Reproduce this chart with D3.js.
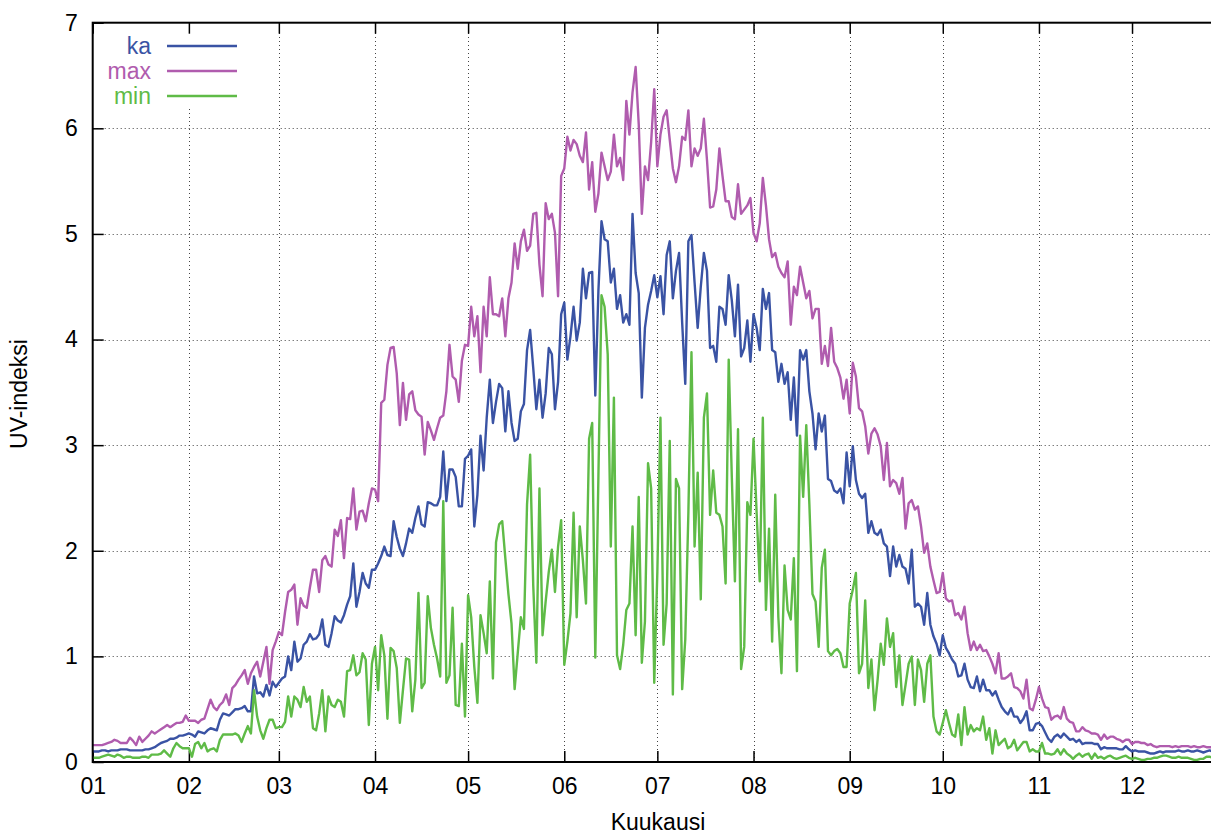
<!DOCTYPE html>
<html>
<head>
<meta charset="utf-8">
<script src="https://cdn.jsdelivr.net/npm/d3@7/dist/d3.min.js"></script>
<style>
  body { margin: 0; background: #fff; }
  svg { display: block; font-family: "Liberation Sans", Arial, sans-serif; }
</style>
</head>
<body>
<svg id="chart" width="1211" height="834"></svg>
<script>
// daily UV index, one value per day starting 1 Jan (leap year)
var ka = [
  0.10,0.10,0.10,0.11,0.11,0.10,0.11,0.11,0.11,0.12, // 0
  0.12,0.12,0.11,0.11,0.11,0.11,0.11,0.12,0.12,0.13,
  0.14,0.16,0.18,0.19,0.20,0.22,0.22,0.23,0.25,0.25,
  0.26,0.27,0.26,0.24,0.29,0.28,0.27,0.30,0.32,0.31,
  0.30,0.40,0.46,0.45,0.44,0.47,0.50,0.50,0.51,0.53,
  0.48,0.48,0.81,0.65,0.66,0.62,0.73,0.63,0.76,0.71, // 50
  0.75,0.79,0.81,1.00,0.87,1.14,0.95,0.98,1.11,1.14,
  1.21,1.16,1.17,1.21,1.35,1.11,1.09,1.22,1.38,1.34,
  1.32,1.39,1.49,1.57,1.88,1.47,1.61,1.79,1.69,1.65,
  1.82,1.82,1.88,1.95,2.04,1.96,1.95,2.28,2.13,2.02,
  1.95,2.07,2.21,2.17,2.31,2.42,2.25,2.23,2.46,2.45, // 100
  2.43,2.43,2.51,2.94,2.47,2.77,2.77,2.70,2.42,2.42,
  2.87,2.90,2.96,2.23,2.53,3.09,2.76,3.26,3.62,3.21,
  3.41,3.58,3.54,3.13,3.51,3.21,3.04,3.06,3.32,3.39,
  3.90,4.09,3.73,3.34,3.62,3.26,3.49,3.92,3.86,3.34,
  3.60,4.24,4.35,3.81,4.03,4.31,3.99,4.16,4.67,4.39, // 150
  4.63,4.64,3.47,4.46,5.12,4.95,4.93,4.54,4.67,4.29,
  4.42,4.16,4.24,4.14,5.19,4.63,4.44,3.45,4.11,4.33,
  4.46,4.61,4.40,4.60,4.24,4.80,4.93,4.39,4.65,4.82,
  4.16,3.58,4.93,4.99,4.54,4.11,4.50,4.82,4.65,3.92,
  3.94,3.79,4.31,4.29,4.14,4.61,4.37,4.03,4.52,3.84, // 200
  3.92,4.18,3.79,4.24,4.11,3.90,4.48,4.29,4.44,3.90,
  3.88,3.60,3.77,3.58,3.69,3.24,3.64,3.09,3.90,3.81,
  3.90,3.51,3.30,2.96,3.30,3.13,3.28,2.68,2.66,2.57,
  2.55,2.59,2.45,2.93,2.61,2.99,2.67,2.54,2.50,2.54,
  2.17,2.28,2.17,2.15,2.20,2.07,2.04,1.76,2.04,1.85, // 250
  1.96,1.85,1.83,1.69,2.01,1.47,1.50,1.47,1.30,1.60,
  1.30,1.19,1.12,1.01,1.20,1.08,1.03,0.97,0.93,0.81,
  0.82,0.93,0.78,0.71,0.70,0.81,0.67,0.78,0.68,0.68,
  0.63,0.67,0.59,0.52,0.48,0.45,0.51,0.43,0.43,0.37,
  0.41,0.48,0.30,0.30,0.36,0.37,0.34,0.28,0.22,0.19, // 300
  0.24,0.26,0.23,0.27,0.24,0.21,0.22,0.19,0.21,0.17,
  0.18,0.18,0.18,0.17,0.17,0.12,0.14,0.13,0.13,0.13,
  0.13,0.12,0.12,0.15,0.12,0.10,0.11,0.10,0.10,0.10,
  0.09,0.08,0.08,0.09,0.10,0.09,0.10,0.10,0.10,0.10,
  0.11,0.10,0.10,0.11,0.10,0.10,0.11,0.10,0.09,0.10, // 350
  0.11,0.10,0.10,0.10,0.10,0.10
];

var uvMax = [
  0.16,0.16,0.16,0.16,0.17,0.18,0.19,0.21,0.20,0.18,
  0.18,0.18,0.23,0.20,0.16,0.24,0.19,0.22,0.25,0.29,
  0.27,0.29,0.31,0.33,0.35,0.33,0.35,0.37,0.37,0.38,
  0.44,0.39,0.39,0.39,0.37,0.40,0.41,0.50,0.59,0.52,
  0.49,0.54,0.57,0.64,0.54,0.70,0.73,0.78,0.82,0.87,
  0.74,0.84,0.90,0.95,0.81,0.95,1.09,0.74,1.06,1.14,
  1.23,1.20,1.42,1.61,1.63,1.68,1.30,1.55,1.48,1.46,
  1.65,1.82,1.82,1.61,1.91,1.95,1.87,1.85,2.20,2.14,
  2.29,1.93,2.31,2.30,2.59,2.20,2.37,2.38,2.28,2.45,
  2.59,2.58,2.47,3.40,3.43,3.76,3.92,3.93,3.68,3.19,
  3.59,3.24,3.48,3.51,3.33,3.29,3.27,2.91,3.22,3.14,
  3.05,3.16,3.26,3.28,3.51,3.95,3.65,3.62,3.41,3.80,
  3.95,3.94,4.31,4.03,4.22,3.69,4.31,4.03,4.59,4.24,
  4.24,4.22,4.39,4.03,4.39,4.54,4.91,4.67,4.93,5.04,
  4.84,4.89,5.19,5.20,4.71,4.41,5.29,5.14,5.19,5.01,
  4.41,5.55,5.62,5.92,5.79,5.89,5.85,5.74,5.68,5.96,
  5.42,5.68,5.21,5.38,5.77,5.64,5.51,5.59,5.94,5.64,
  5.72,5.51,6.26,5.94,6.34,6.58,6.04,5.19,5.64,5.51,
  5.87,6.37,5.64,5.94,6.11,6.17,5.89,5.62,5.49,5.64,
  5.92,5.89,6.17,5.64,5.81,5.74,5.81,6.09,5.70,5.25,
  5.26,5.42,5.81,5.55,5.31,5.31,5.16,5.14,5.47,5.19,
  5.23,5.27,5.34,5.01,4.93,5.10,5.53,5.27,4.95,4.78,
  4.82,4.69,4.63,4.59,4.74,4.14,4.50,4.42,4.69,4.54,
  4.39,4.46,4.20,4.29,4.29,3.77,3.94,3.75,4.11,3.79,
  3.73,3.64,3.44,3.62,3.30,3.78,3.65,3.35,3.32,3.18,
  2.92,3.11,3.16,3.10,2.99,2.67,3.02,2.61,2.67,2.64,
  2.54,2.69,2.21,2.45,2.48,2.39,2.42,2.23,1.98,2.07,
  1.85,1.72,1.60,1.61,1.79,1.55,1.52,1.53,1.39,1.41,
  1.35,1.47,1.22,1.06,1.14,1.06,1.11,1.05,1.06,1.00,
  0.93,0.84,1.03,0.79,0.79,0.81,0.84,0.71,0.70,0.67,
  0.60,0.78,0.51,0.49,0.59,0.71,0.60,0.52,0.51,0.40,
  0.43,0.44,0.41,0.52,0.41,0.38,0.37,0.29,0.29,0.33,
  0.30,0.29,0.27,0.27,0.26,0.21,0.26,0.22,0.24,0.24,
  0.22,0.21,0.19,0.21,0.21,0.17,0.19,0.19,0.18,0.18,
  0.16,0.17,0.15,0.14,0.15,0.15,0.15,0.15,0.14,0.15,
  0.14,0.15,0.15,0.15,0.14,0.15,0.14,0.14,0.15,0.14,
  0.14,0.14,0.14,0.14,0.14,0.14
];

var uvMin = [
  0.04,0.04,0.04,0.05,0.06,0.07,0.06,0.05,0.07,0.06,
  0.04,0.05,0.05,0.04,0.04,0.04,0.05,0.05,0.04,0.07,
  0.07,0.07,0.08,0.11,0.08,0.05,0.13,0.18,0.15,0.13,
  0.13,0.13,0.05,0.17,0.19,0.13,0.18,0.10,0.12,0.13,
  0.10,0.21,0.26,0.26,0.26,0.26,0.27,0.25,0.19,0.27,
  0.34,0.27,0.68,0.43,0.30,0.22,0.32,0.40,0.40,0.32,
  0.33,0.33,0.38,0.62,0.43,0.62,0.59,0.52,0.71,0.57,
  0.62,0.32,0.30,0.46,0.68,0.29,0.62,0.54,0.52,0.59,
  0.57,0.43,0.86,0.87,1.01,0.82,0.85,1.03,0.97,0.35,
  0.93,1.09,0.68,1.20,1.01,0.41,1.08,1.05,0.89,0.37,
  0.68,0.98,0.97,0.48,0.78,1.60,0.70,0.75,1.57,1.27,
  1.11,0.98,0.81,2.47,0.75,0.82,1.46,0.54,0.53,1.12,
  0.43,1.58,1.37,0.90,0.56,1.39,1.22,1.03,1.71,0.79,
  2.08,2.25,2.28,1.93,1.59,1.31,0.69,1.03,1.37,1.26,
  2.44,2.91,1.67,0.94,2.59,1.20,1.52,1.80,2.01,1.61,
  2.04,2.29,0.92,1.14,1.41,2.36,1.37,2.23,1.91,1.50,
  3.06,3.21,0.99,2.70,4.42,4.31,3.86,2.04,3.45,1.01,
  0.88,1.11,1.44,1.50,2.23,1.20,2.51,0.94,1.33,2.83,
  2.59,0.75,1.80,3.26,1.11,1.50,3.04,0.64,2.68,2.59,
  0.69,1.16,2.36,3.88,2.04,2.74,1.54,3.26,3.49,2.34,
  2.76,2.36,2.34,2.23,1.69,3.81,2.70,1.71,3.15,0.88,
  1.09,2.46,2.34,3.06,2.36,1.71,3.26,1.44,2.21,1.14,
  2.53,1.37,0.84,1.86,1.44,1.35,1.93,0.86,3.09,2.51,
  3.19,2.44,1.59,1.52,1.09,1.84,2.01,1.05,1.01,1.05,
  1.07,1.03,0.90,0.90,1.50,1.63,1.79,0.84,0.93,1.53,
  0.70,0.97,0.49,0.78,1.12,0.92,1.36,1.09,1.22,0.71,
  1.01,0.54,0.73,0.93,1.00,0.54,0.97,0.87,0.57,0.93,
  1.01,0.43,0.29,0.26,0.37,0.49,0.37,0.26,0.24,0.45,
  0.16,0.52,0.26,0.35,0.29,0.32,0.30,0.43,0.21,0.32,
  0.08,0.30,0.16,0.19,0.22,0.13,0.15,0.21,0.11,0.15,
  0.19,0.19,0.10,0.12,0.10,0.10,0.18,0.08,0.08,0.07,
  0.08,0.12,0.07,0.12,0.08,0.06,0.03,0.06,0.08,0.05,
  0.07,0.08,0.03,0.08,0.04,0.05,0.03,0.05,0.06,0.04,
  0.03,0.04,0.05,0.06,0.04,0.03,0.04,0.03,0.02,0.02,
  0.03,0.03,0.04,0.04,0.05,0.06,0.06,0.05,0.04,0.04,
  0.05,0.04,0.04,0.04,0.03,0.02,0.02,0.03,0.03,0.05,
  0.05,0.04,0.04,0.05,0.05,0.05
];

var monthLabels = ["01","02","03","04","05","06","07","08","09","10","11","12"];
var yTicks = [0, 1, 2, 3, 4, 5, 6, 7];

var series = [
  {name: "ka",  values: ka,    color: "#3a53a4"},
  {name: "max", values: uvMax, color: "#b05cae"},
  {name: "min", values: uvMin, color: "#5fbb47"}
];

var start = new Date(2012, 0, 1),
    end = new Date(2013, 0, 1),
    plotLeft = 92.7, plotRight = 1228.2, plotTop = 22.7, plotBottom = 762;

var svg = d3.select("#chart");

var x = d3.scaleTime()
    .domain([start, end])
    .range([plotLeft, plotRight]);

var y = d3.scaleLinear()
    .domain([0, 7])
    .range([plotBottom, plotTop]);

var months = d3.timeMonth.range(start, end);

// grid
var grid = svg.append("g")
    .attr("stroke", "#444")
    .attr("stroke-width", 1)
    .attr("stroke-dasharray", "1,3");

grid.selectAll("line.vx")
  .data(months.slice(1))
  .enter().append("line")
    .attr("class", "vx")
    .attr("x1", function(d) { return Math.round(x(d)) + 0.5; })
    .attr("x2", function(d) { return Math.round(x(d)) + 0.5; })
    .attr("y1", plotBottom)
    .attr("y2", plotTop);

grid.selectAll("line.hy")
  .data(yTicks.slice(1, -1))
  .enter().append("line")
    .attr("class", "hy")
    .attr("x1", plotLeft)
    .attr("x2", plotRight)
    .attr("y1", function(d) { return Math.round(y(d)) + 0.5; })
    .attr("y2", function(d) { return Math.round(y(d)) + 0.5; });

// white box behind the key
svg.append("rect")
    .attr("x", 96).attr("y", 28)
    .attr("width", 148).attr("height", 80)
    .attr("fill", "#fff");

// axes
svg.append("g")
    .attr("transform", "translate(0," + plotBottom + ")")
    .call(d3.axisBottom(x)
      .tickValues(months)
      .tickFormat(function(d, i) { return monthLabels[i]; })
      .tickSizeInner(-11)
      .tickSizeOuter(0)
      .tickPadding(16));

svg.append("g")
    .attr("transform", "translate(0," + plotTop + ")")
    .call(d3.axisTop(x)
      .tickValues(months)
      .tickFormat("")
      .tickSizeInner(-11)
      .tickSizeOuter(0));

svg.append("g")
    .attr("transform", "translate(" + plotLeft + ",0)")
    .call(d3.axisLeft(y)
      .tickValues(yTicks)
      .tickFormat(d3.format("d"))
      .tickSizeInner(-11)
      .tickSizeOuter(0)
      .tickPadding(15));

svg.append("g")
    .attr("transform", "translate(" + plotRight + ",0)")
    .call(d3.axisRight(y)
      .tickValues(yTicks)
      .tickFormat("")
      .tickSizeInner(-11)
      .tickSizeOuter(0));

svg.selectAll(".domain").remove();
svg.selectAll(".tick line").attr("stroke", "#000").attr("stroke-width", 1.5);
svg.selectAll(".tick text")
    .attr("fill", "#000")
    .style("font-size", "23px")
    .style("font-family", "Liberation Sans, Arial, sans-serif");

// lines
var line = d3.line()
    .x(function(d, i) { return x(d3.timeDay.offset(start, i)); })
    .y(function(d) { return y(d); });

svg.append("g")
  .selectAll("path")
  .data(series)
  .enter().append("path")
    .attr("d", function(s) { return line(s.values); })
    .attr("fill", "none")
    .attr("stroke", function(s) { return s.color; })
    .attr("stroke-width", 2.4)
    .attr("stroke-linejoin", "round");

// border
svg.append("rect")
    .attr("x", plotLeft).attr("y", plotTop)
    .attr("width", plotRight - plotLeft).attr("height", plotBottom - plotTop)
    .attr("fill", "none")
    .attr("stroke", "#000")
    .attr("stroke-width", 2);

// key
var key = svg.append("g")
  .selectAll("g")
  .data(series)
  .enter().append("g")
    .attr("transform", function(s, i) { return "translate(0," + (46 + i * 25) + ")"; });

key.append("text")
    .attr("x", 151)
    .attr("dy", "0.35em")
    .attr("text-anchor", "end")
    .attr("fill", function(s) { return s.color; })
    .style("font-size", "23px")
    .text(function(s) { return s.name; });

key.append("line")
    .attr("x1", 167).attr("x2", 237)
    .attr("stroke", function(s) { return s.color; })
    .attr("stroke-width", 2.4);

// axis titles
svg.append("text")
    .attr("x", 658).attr("y", 830)
    .attr("text-anchor", "middle")
    .style("font-size", "23px")
    .text("Kuukausi");

svg.append("text")
    .attr("transform", "translate(27,394) rotate(-90)")
    .attr("text-anchor", "middle")
    .style("font-size", "23px")
    .text("UV-indeksi");
</script>
</body>
</html>
